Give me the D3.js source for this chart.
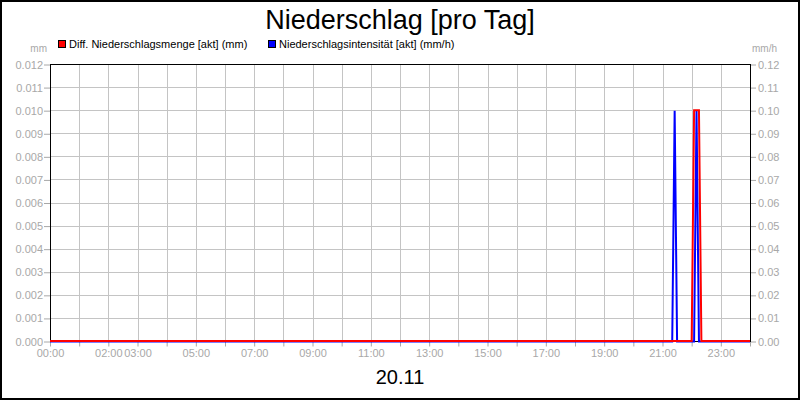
<!DOCTYPE html>
<html>
<head>
<meta charset="utf-8">
<script src="https://cdn.jsdelivr.net/npm/d3@7"></script>
<style>
  body { margin: 0; background: #fff; }
  svg text { font-family: Arial, "Liberation Sans", sans-serif; }
</style>
</head>
<body>
<div id="chart"></div>
<script>
// Chart data.
const title = "Niederschlag [pro Tag]";
const dayLabel = "20.11";
const seriesNames = ["Diff. Niederschlagsmenge [akt] (mm)", "Niederschlagsintensität [akt] (mm/h)"];
const seriesColors = ["#ff0000", "#0000ff"];
const leftUnit = "mm";
const rightUnit = "mm/h";

const mengeTimes = ["00:00", "22:00", "22:05", "22:10", "22:15", "22:20", "24:00"];
const mengeValues = [0, 0, 0.01, 0.01, 0.01, 0, 0];

const intensTimes = ["00:00", "21:20", "21:25", "21:30", "22:05", "22:10", "22:15", "24:00"];
const intensValues = [0, 0, 0.1, 0, 0, 0.1, 0, 0];

const hourTicks = ["00:00", "01:00", "02:00", "03:00", "04:00", "05:00", "06:00", "07:00", "08:00",
  "09:00", "10:00", "11:00", "12:00", "13:00", "14:00", "15:00", "16:00", "17:00", "18:00",
  "19:00", "20:00", "21:00", "22:00", "23:00", "24:00"];
const xTickLabels = ["00:00", "02:00", "03:00", "05:00", "07:00", "09:00", "11:00", "13:00",
  "15:00", "17:00", "19:00", "21:00", "23:00"];
const leftTicks = [0, 0.001, 0.002, 0.003, 0.004, 0.005, 0.006, 0.007, 0.008, 0.009, 0.010, 0.011, 0.012];
const rightTicks = [0, 0.01, 0.02, 0.03, 0.04, 0.05, 0.06, 0.07, 0.08, 0.09, 0.10, 0.11, 0.12];

/**
 * Layout.
 */
const width = 800;
const height = 400;
const plot = { left: 50, right: 750, top: 64.5, bottom: 341.5 };
const labelColor = "#a8a8a8";
const gridColor = "#c4c4c4";

// "HH:MM" -> minutes since midnight.
const toMinutes = (s) => {
  const [h, m] = s.split(":").map(Number);
  return h * 60 + m;
};

const svg = d3.select("#chart")
  .append("svg")
  .attr("width", width)
  .attr("height", height);

// Outer frame.
svg.append("rect")
  .attr("x", 1).attr("y", 1)
  .attr("width", width - 2).attr("height", height - 2)
  .attr("fill", "#fff")
  .attr("stroke", "#000")
  .attr("stroke-width", 2);

/**
 * Scales.
 */
const x = d3.scaleLinear().domain([0, 1440]).range([plot.left, plot.right]);
const yLeft = d3.scaleLinear().domain([0, 0.012]).range([plot.bottom, plot.top]);
const yRight = d3.scaleLinear().domain([0, 0.12]).range([plot.bottom, plot.top]);

/**
 * Title.
 */
svg.append("text")
  .attr("x", 400)
  .attr("y", 29)
  .attr("text-anchor", "middle")
  .style("font-size", "27px")
  .attr("fill", "#000")
  .text(title);

/**
 * Legend.
 */
const legendX = [58, 268];
seriesNames.forEach((name, i) => {
  svg.append("rect")
    .attr("x", legendX[i] + 0.5).attr("y", 40.5)
    .attr("width", 7).attr("height", 7)
    .attr("fill", seriesColors[i])
    .attr("stroke", "#000")
    .attr("stroke-width", 1);
  svg.append("text")
    .attr("x", legendX[i] + 11)
    .attr("y", 48)
    .style("font-size", "11px")
    .attr("fill", "#000")
    .text(name);
});

// Unit labels.
svg.append("text")
  .attr("x", 47).attr("y", 52)
  .attr("text-anchor", "end")
  .style("font-size", "10px")
  .attr("fill", labelColor)
  .text(leftUnit);
svg.append("text")
  .attr("x", 752).attr("y", 52)
  .style("font-size", "10px")
  .attr("fill", labelColor)
  .text(rightUnit);

/**
 * Grid.
 */
const grid = svg.append("g").attr("stroke", gridColor).attr("stroke-width", 1);
grid.selectAll("line.v")
  .data(hourTicks.map(toMinutes))
  .enter()
  .append("line")
  .attr("class", "v")
  .attr("x1", (d) => Math.round(x(d)) + 0.5)
  .attr("x2", (d) => Math.round(x(d)) + 0.5)
  .attr("y1", plot.top)
  .attr("y2", plot.bottom);
grid.selectAll("line.h")
  .data(leftTicks)
  .enter()
  .append("line")
  .attr("class", "h")
  .attr("x1", plot.left)
  .attr("x2", plot.right)
  .attr("y1", (d) => Math.round(yLeft(d) - 0.5) + 0.5)
  .attr("y2", (d) => Math.round(yLeft(d) - 0.5) + 0.5);

/**
 * Axes.
 */
function styleAxis(g) {
  g.select(".domain").remove();
  g.selectAll(".tick line").attr("stroke", labelColor);
  g.selectAll(".tick text")
    .attr("fill", labelColor)
    .style("font-size", "11px")
    .style("font-family", "Arial, 'Liberation Sans', sans-serif");
}

svg.append("g")
  .attr("transform", `translate(${plot.left},0)`)
  .call(d3.axisLeft(yLeft).tickValues(leftTicks).tickSize(6).tickPadding(1).tickFormat(d3.format(".3f")))
  .call(styleAxis);

svg.append("g")
  .attr("transform", `translate(${plot.right},0)`)
  .call(d3.axisRight(yRight).tickValues(rightTicks).tickSize(6).tickPadding(2).tickFormat(d3.format(".2f")))
  .call(styleAxis);

svg.append("g")
  .attr("transform", `translate(0,${plot.bottom})`)
  .call(
    d3.axisBottom(x)
      .tickValues(hourTicks.map(toMinutes))
      .tickSize(5)
      .tickPadding(3)
      .tickFormat((d) => {
        const h = String(Math.floor(d / 60)).padStart(2, "0") + ":00";
        return xTickLabels.includes(h) ? h : "";
      })
  )
  .call(styleAxis);

// Plot frame.
svg.append("rect")
  .attr("x", plot.left + 0.5)
  .attr("y", plot.top)
  .attr("width", plot.right - plot.left)
  .attr("height", plot.bottom - plot.top)
  .attr("fill", "none")
  .attr("stroke", "#000")
  .attr("stroke-width", 1);

/**
 * Data lines.
 */
const intensLine = d3.line()
  .x((d) => x(d.t))
  .y((d) => yRight(d.v));
const mengeLine = d3.line()
  .x((d) => x(d.t))
  .y((d) => yLeft(d.v) - 0.5);

const intensData = intensTimes.map((t, i) => ({ t: toMinutes(t), v: intensValues[i] }));
const mengeData = mengeTimes.map((t, i) => ({ t: toMinutes(t), v: mengeValues[i] }));

svg.append("path")
  .datum(intensData)
  .attr("d", intensLine)
  .attr("fill", "none")
  .attr("stroke", seriesColors[1])
  .attr("stroke-width", 2);

svg.append("path")
  .datum(mengeData)
  .attr("d", mengeLine)
  .attr("fill", "none")
  .attr("stroke", seriesColors[0])
  .attr("stroke-width", 2);

/**
 * Day label.
 */
svg.append("text")
  .attr("x", 400)
  .attr("y", 384)
  .attr("text-anchor", "middle")
  .style("font-size", "20px")
  .attr("fill", "#000")
  .text(dayLabel);
</script>
</body>
</html>
